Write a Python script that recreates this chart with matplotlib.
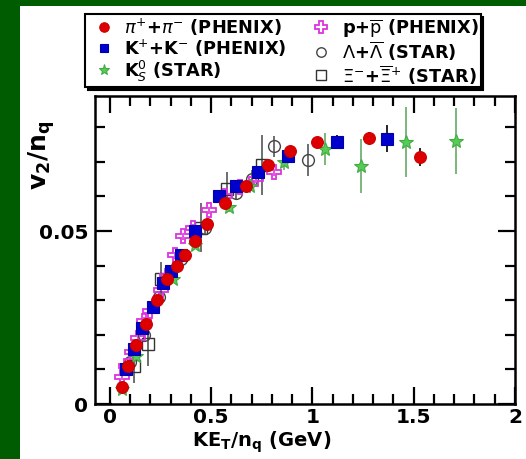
import numpy as np
import matplotlib.pyplot as plt
from matplotlib.patches import Rectangle
from matplotlib.lines import Line2D
from matplotlib.ticker import MultipleLocator

# pi+ + pi- (PHENIX)
pi_x = [0.06, 0.09, 0.13, 0.18, 0.23, 0.28, 0.33, 0.37, 0.42, 0.48, 0.57, 0.67, 0.78, 0.89, 1.02, 1.28, 1.53]
pi_y = [0.005, 0.011, 0.017, 0.023, 0.030, 0.036, 0.040, 0.043, 0.047, 0.052, 0.058, 0.063, 0.069, 0.073, 0.0757, 0.077, 0.0714]
pi_e = [0.001, 0.001, 0.001, 0.001, 0.001, 0.001, 0.001, 0.001, 0.001, 0.001, 0.001, 0.001, 0.001, 0.0012, 0.0015, 0.0015, 0.0027]

# K+ + K- (PHENIX)
k_x = [0.08, 0.12, 0.16, 0.21, 0.26, 0.30, 0.35, 0.42, 0.54, 0.62, 0.73, 0.88, 1.12, 1.37]
k_y = [0.010, 0.016, 0.022, 0.028, 0.035, 0.0385, 0.043, 0.050, 0.060, 0.063, 0.067, 0.0717, 0.0757, 0.0766]
k_e = [0.001, 0.001, 0.001, 0.001, 0.001, 0.001, 0.001, 0.001, 0.001, 0.001, 0.0012, 0.0015, 0.002, 0.0039]

# K0s (STAR)
ks_x = [0.06, 0.13, 0.22, 0.31, 0.42, 0.59, 0.69, 0.86, 1.06, 1.24, 1.46, 1.71]
ks_y = [0.0043, 0.014, 0.029, 0.036, 0.046, 0.057, 0.063, 0.070, 0.0737, 0.0688, 0.0757, 0.076]
ks_e = [0.001, 0.001, 0.001, 0.001, 0.001, 0.0015, 0.002, 0.0025, 0.0046, 0.0077, 0.010, 0.0095]

# p + pbar (PHENIX)
p_x = [0.06, 0.08, 0.11, 0.14, 0.17, 0.20, 0.25, 0.28, 0.32, 0.36, 0.41, 0.49, 0.57, 0.64, 0.72, 0.81]
p_y = [0.0078, 0.011, 0.015, 0.019, 0.024, 0.027, 0.033, 0.037, 0.043, 0.0485, 0.051, 0.056, 0.060, 0.0627, 0.065, 0.067]
p_e = [0.001] * 16

# Lambda + Lambdabar (STAR)
la_x = [0.10, 0.17, 0.24, 0.35, 0.47, 0.62, 0.70, 0.81, 0.98]
la_y = [0.012, 0.020, 0.031, 0.042, 0.051, 0.061, 0.065, 0.0745, 0.0705]
la_e = [0.001, 0.001, 0.0015, 0.0015, 0.002, 0.002, 0.0025, 0.003, 0.0046]

# Xi- + Xibar+ (STAR)
xi_x = [0.12, 0.19, 0.25, 0.45, 0.58, 0.75]
xi_y = [0.011, 0.0174, 0.036, 0.051, 0.062, 0.069]
xi_e = [0.005, 0.0065, 0.005, 0.007, 0.005, 0.0087]

fig = plt.figure(figsize=(5.26, 4.60), dpi=100)
fig.patch.set_facecolor('#005c00')
fig.patches.append(Rectangle((20 / 526, 0), 1 - 20 / 526, 1 - 7 / 460,
                             transform=fig.transFigure, facecolor='white',
                             edgecolor='none', zorder=-5))

ax = fig.add_axes([95 / 526, 1 - 405 / 460, 420 / 526, 308 / 460])
ax.set_facecolor('none')

# style per series
st_xi = dict(marker='s', ms=9, mfc='none', mec='#333333', mew=1.0)
st_la = dict(marker='o', ms=8.5, mfc='none', mec='#444444', mew=1.0)
st_p = dict(marker='P', ms=10.5, mfc='none', mec='#dd33dd', mew=1.3)
st_ks = dict(marker='*', ms=10, mfc='#55cc55', mec='#44aa44', mew=0.8)
st_k = dict(marker='s', ms=8, mfc='#0000cc', mec='#0000aa', mew=0.8)
st_pi = dict(marker='o', ms=8.5, mfc='#dd0000', mec='#cc0000', mew=0.8)

kw = dict(linestyle='none', elinewidth=1.2, capsize=0)
ax.errorbar(xi_x, xi_y, yerr=xi_e, color='#555555', **st_xi, **kw)
ax.errorbar(la_x, la_y, yerr=la_e, color='#555555', **st_la, **kw)
ax.errorbar(p_x, p_y, yerr=p_e, color='#dd33dd', **st_p, **kw)
ax.errorbar(ks_x, ks_y, yerr=ks_e, color='#66aa66', **st_ks, **kw)
ax.errorbar(k_x, k_y, yerr=k_e, color='black', **st_k, **kw)
ax.errorbar(pi_x, pi_y, yerr=pi_e, color='black', **st_pi, **kw)

ax.set_xlim(-0.074, 2.0)
ax.set_ylim(0, 0.089)
ax.xaxis.set_minor_locator(MultipleLocator(0.1))
ax.yaxis.set_minor_locator(MultipleLocator(0.01))
ax.set_xticks([0, 0.5, 1, 1.5, 2])
ax.set_xticklabels(['0', '0.5', '1', '1.5', '2'])
ax.set_yticks([0, 0.05])
ax.set_yticklabels(['0', '0.05'])
ax.tick_params(which='both', direction='in', top=True, right=True, width=1.6)
ax.tick_params(which='major', length=12, labelsize=14.5)
ax.tick_params(axis='x', which='major', pad=2)
ax.tick_params(axis='y', which='major', pad=5)
ax.tick_params(which='minor', length=7)
for lab in ax.get_xticklabels() + ax.get_yticklabels():
    lab.set_fontweight('bold')
for s in ax.spines.values():
    s.set_linewidth(1.8)

fig.text(262 / 526, 1 - 442 / 460, r'KE$_\mathbf{T}$/n$_\mathbf{q}$ (GeV)', fontsize=14,
         fontweight='bold', ha='center', va='center')
fig.text(42 / 526, 1 - 155 / 460, r'v$_\mathbf{2}$/n$_\mathbf{q}$', fontsize=18,
         fontweight='bold', ha='center', va='center', rotation=90)

def proxy(st, scale=0.8):
    d = dict(st)
    d['ms'] = d['ms'] * scale
    return Line2D([], [], linestyle='none', **d)

handles = [proxy(st_pi), proxy(st_k), proxy(st_ks), proxy(st_p), proxy(st_la), proxy(st_xi)]
labels = [r'$\pi^{+}$+$\pi^{-}$ (PHENIX)', r'K$^{+}$+K$^{-}$ (PHENIX)', r'K$^{0}_{S}$ (STAR)',
          r'p+$\overline{\mathrm{p}}$ (PHENIX)', r'$\Lambda$+$\overline{\Lambda}$ (STAR)',
          r'$\Xi^{-}$+$\overline{\Xi}^{+}$ (STAR)']
leg = ax.legend(handles, labels, ncol=2, loc='upper left',
                bbox_to_anchor=(85 / 526, 1 - 15 / 460),
                bbox_transform=fig.transFigure, fancybox=False,
                shadow={'color': 'black', 'alpha': 1.0}, edgecolor='black',
                borderaxespad=0, handletextpad=0.2, columnspacing=1.0,
                handlelength=1.9, labelspacing=0.0, borderpad=0.1,
                prop={'weight': 'bold', 'size': 12.8})
leg.get_frame().set_linewidth(1.5)

fig.savefig('out.png', dpi=100, facecolor=fig.get_facecolor())
